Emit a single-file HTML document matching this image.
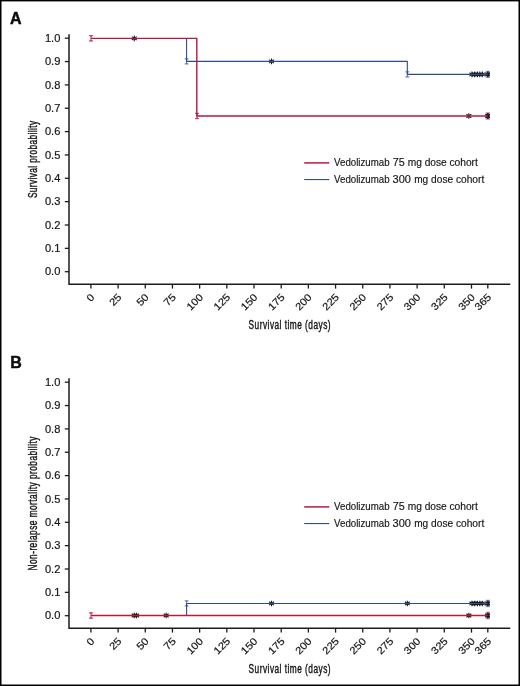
<!DOCTYPE html>
<html><head><meta charset="utf-8"><title>Figure</title>
<style>
html,body{margin:0;padding:0;background:#fff;}
body{width:520px;height:686px;overflow:hidden;}
svg{display:block;will-change:transform;opacity:0.999;font-family:"Liberation Sans",sans-serif;}
</style></head><body>
<svg width="520" height="686" viewBox="0 0 520 686">
<defs><clipPath id="cl"><rect x="60" y="0" width="429.90" height="350"/></clipPath></defs>
<rect x="0" y="0" width="520" height="686" fill="#fff"/>
<g transform="translate(0,0)">
<text x="10.0" y="24" font-size="16" font-weight="bold" fill="#0c0c0c" stroke="#0c0c0c" stroke-width=".45" stroke-linejoin="miter">A</text>
<path d="M69 34.2V284.3H510.3" stroke="#1c1c1c" stroke-width="1.5" fill="none"/>
<path d="M64.8 271.70H69" stroke="#1c1c1c" stroke-width="1.3"/>
<text x="60.4" y="275.30" font-size="10.2" text-anchor="end" textLength="15.45" lengthAdjust="spacingAndGlyphs" fill="#151515" stroke="#151515" stroke-width=".18">0.0</text>
<path d="M64.8 248.35H69" stroke="#1c1c1c" stroke-width="1.3"/>
<text x="60.4" y="251.95" font-size="10.2" text-anchor="end" textLength="15.45" lengthAdjust="spacingAndGlyphs" fill="#151515" stroke="#151515" stroke-width=".18">0.1</text>
<path d="M64.8 225.00H69" stroke="#1c1c1c" stroke-width="1.3"/>
<text x="60.4" y="228.60" font-size="10.2" text-anchor="end" textLength="15.45" lengthAdjust="spacingAndGlyphs" fill="#151515" stroke="#151515" stroke-width=".18">0.2</text>
<path d="M64.8 201.65H69" stroke="#1c1c1c" stroke-width="1.3"/>
<text x="60.4" y="205.25" font-size="10.2" text-anchor="end" textLength="15.45" lengthAdjust="spacingAndGlyphs" fill="#151515" stroke="#151515" stroke-width=".18">0.3</text>
<path d="M64.8 178.30H69" stroke="#1c1c1c" stroke-width="1.3"/>
<text x="60.4" y="181.90" font-size="10.2" text-anchor="end" textLength="15.45" lengthAdjust="spacingAndGlyphs" fill="#151515" stroke="#151515" stroke-width=".18">0.4</text>
<path d="M64.8 154.95H69" stroke="#1c1c1c" stroke-width="1.3"/>
<text x="60.4" y="158.55" font-size="10.2" text-anchor="end" textLength="15.45" lengthAdjust="spacingAndGlyphs" fill="#151515" stroke="#151515" stroke-width=".18">0.5</text>
<path d="M64.8 131.60H69" stroke="#1c1c1c" stroke-width="1.3"/>
<text x="60.4" y="135.20" font-size="10.2" text-anchor="end" textLength="15.45" lengthAdjust="spacingAndGlyphs" fill="#151515" stroke="#151515" stroke-width=".18">0.6</text>
<path d="M64.8 108.25H69" stroke="#1c1c1c" stroke-width="1.3"/>
<text x="60.4" y="111.85" font-size="10.2" text-anchor="end" textLength="15.45" lengthAdjust="spacingAndGlyphs" fill="#151515" stroke="#151515" stroke-width=".18">0.7</text>
<path d="M64.8 84.90H69" stroke="#1c1c1c" stroke-width="1.3"/>
<text x="60.4" y="88.50" font-size="10.2" text-anchor="end" textLength="15.45" lengthAdjust="spacingAndGlyphs" fill="#151515" stroke="#151515" stroke-width=".18">0.8</text>
<path d="M64.8 61.55H69" stroke="#1c1c1c" stroke-width="1.3"/>
<text x="60.4" y="65.15" font-size="10.2" text-anchor="end" textLength="15.45" lengthAdjust="spacingAndGlyphs" fill="#151515" stroke="#151515" stroke-width=".18">0.9</text>
<path d="M64.8 38.20H69" stroke="#1c1c1c" stroke-width="1.3"/>
<text x="60.4" y="41.80" font-size="10.2" text-anchor="end" textLength="15.45" lengthAdjust="spacingAndGlyphs" fill="#151515" stroke="#151515" stroke-width=".18">1.0</text>
<path d="M90.90 284.3V288.6" stroke="#1c1c1c" stroke-width="1.3"/>
<text transform="translate(95.00,297.8) rotate(-45)" font-size="10.2" text-anchor="end" textLength="6.18" lengthAdjust="spacingAndGlyphs" fill="#151515" stroke="#151515" stroke-width=".18">0</text>
<path d="M118.09 284.3V288.6" stroke="#1c1c1c" stroke-width="1.3"/>
<text transform="translate(122.19,297.8) rotate(-45)" font-size="10.2" text-anchor="end" textLength="12.36" lengthAdjust="spacingAndGlyphs" fill="#151515" stroke="#151515" stroke-width=".18">25</text>
<path d="M145.27 284.3V288.6" stroke="#1c1c1c" stroke-width="1.3"/>
<text transform="translate(149.37,297.8) rotate(-45)" font-size="10.2" text-anchor="end" textLength="12.36" lengthAdjust="spacingAndGlyphs" fill="#151515" stroke="#151515" stroke-width=".18">50</text>
<path d="M172.45 284.3V288.6" stroke="#1c1c1c" stroke-width="1.3"/>
<text transform="translate(176.55,297.8) rotate(-45)" font-size="10.2" text-anchor="end" textLength="12.36" lengthAdjust="spacingAndGlyphs" fill="#151515" stroke="#151515" stroke-width=".18">75</text>
<path d="M199.64 284.3V288.6" stroke="#1c1c1c" stroke-width="1.3"/>
<text transform="translate(203.74,297.8) rotate(-45)" font-size="10.2" text-anchor="end" textLength="18.54" lengthAdjust="spacingAndGlyphs" fill="#151515" stroke="#151515" stroke-width=".18">100</text>
<path d="M226.82 284.3V288.6" stroke="#1c1c1c" stroke-width="1.3"/>
<text transform="translate(230.92,297.8) rotate(-45)" font-size="10.2" text-anchor="end" textLength="18.54" lengthAdjust="spacingAndGlyphs" fill="#151515" stroke="#151515" stroke-width=".18">125</text>
<path d="M254.01 284.3V288.6" stroke="#1c1c1c" stroke-width="1.3"/>
<text transform="translate(258.11,297.8) rotate(-45)" font-size="10.2" text-anchor="end" textLength="18.54" lengthAdjust="spacingAndGlyphs" fill="#151515" stroke="#151515" stroke-width=".18">150</text>
<path d="M281.19 284.3V288.6" stroke="#1c1c1c" stroke-width="1.3"/>
<text transform="translate(285.30,297.8) rotate(-45)" font-size="10.2" text-anchor="end" textLength="18.54" lengthAdjust="spacingAndGlyphs" fill="#151515" stroke="#151515" stroke-width=".18">175</text>
<path d="M308.38 284.3V288.6" stroke="#1c1c1c" stroke-width="1.3"/>
<text transform="translate(312.48,297.8) rotate(-45)" font-size="10.2" text-anchor="end" textLength="18.54" lengthAdjust="spacingAndGlyphs" fill="#151515" stroke="#151515" stroke-width=".18">200</text>
<path d="M335.56 284.3V288.6" stroke="#1c1c1c" stroke-width="1.3"/>
<text transform="translate(339.67,297.8) rotate(-45)" font-size="10.2" text-anchor="end" textLength="18.54" lengthAdjust="spacingAndGlyphs" fill="#151515" stroke="#151515" stroke-width=".18">225</text>
<path d="M362.75 284.3V288.6" stroke="#1c1c1c" stroke-width="1.3"/>
<text transform="translate(366.85,297.8) rotate(-45)" font-size="10.2" text-anchor="end" textLength="18.54" lengthAdjust="spacingAndGlyphs" fill="#151515" stroke="#151515" stroke-width=".18">250</text>
<path d="M389.93 284.3V288.6" stroke="#1c1c1c" stroke-width="1.3"/>
<text transform="translate(394.03,297.8) rotate(-45)" font-size="10.2" text-anchor="end" textLength="18.54" lengthAdjust="spacingAndGlyphs" fill="#151515" stroke="#151515" stroke-width=".18">275</text>
<path d="M417.12 284.3V288.6" stroke="#1c1c1c" stroke-width="1.3"/>
<text transform="translate(421.22,297.8) rotate(-45)" font-size="10.2" text-anchor="end" textLength="18.54" lengthAdjust="spacingAndGlyphs" fill="#151515" stroke="#151515" stroke-width=".18">300</text>
<path d="M444.30 284.3V288.6" stroke="#1c1c1c" stroke-width="1.3"/>
<text transform="translate(448.40,297.8) rotate(-45)" font-size="10.2" text-anchor="end" textLength="18.54" lengthAdjust="spacingAndGlyphs" fill="#151515" stroke="#151515" stroke-width=".18">325</text>
<path d="M471.49 284.3V288.6" stroke="#1c1c1c" stroke-width="1.3"/>
<text transform="translate(475.59,297.8) rotate(-45)" font-size="10.2" text-anchor="end" textLength="18.54" lengthAdjust="spacingAndGlyphs" fill="#151515" stroke="#151515" stroke-width=".18">350</text>
<path d="M487.80 284.3V288.6" stroke="#1c1c1c" stroke-width="1.3"/>
<text transform="translate(491.90,297.8) rotate(-45)" font-size="10.2" text-anchor="end" textLength="18.54" lengthAdjust="spacingAndGlyphs" fill="#151515" stroke="#151515" stroke-width=".18">365</text>
<text transform="translate(289.8,328.8) scale(0.665,1)" font-size="12.5" text-anchor="middle" letter-spacing="0.714" fill="#151515" stroke="#151515" stroke-width=".4">Survival time (days)</text>
<text transform="translate(37.2,159.3) rotate(-90) scale(0.665,1)" font-size="12.5" text-anchor="middle" letter-spacing="0.596" fill="#151515" stroke="#151515" stroke-width=".4">Survival probability</text>
<path d="M304.2 162.9H329.3" stroke="#b51a40" stroke-width="1.5"/>
<path d="M304.2 179.55H329.3" stroke="#2f4d8c" stroke-width="1.1"/>
<text x="334.1" y="166.0" font-size="10" textLength="55.5" lengthAdjust="spacingAndGlyphs" fill="#151515" stroke="#151515" stroke-width=".15">Vedolizumab</text>
<text x="392.7" y="166.0" font-size="10" textLength="11.95" lengthAdjust="spacingAndGlyphs" fill="#151515" stroke="#151515" stroke-width=".15">75</text>
<text x="407.65" y="166.0" font-size="10" textLength="14.2" lengthAdjust="spacingAndGlyphs" fill="#151515" stroke="#151515" stroke-width=".15">mg</text>
<text x="424.65" y="166.0" font-size="10" textLength="22.05" lengthAdjust="spacingAndGlyphs" fill="#151515" stroke="#151515" stroke-width=".15">dose</text>
<text x="449.4" y="166.0" font-size="10" textLength="28.5" lengthAdjust="spacingAndGlyphs" fill="#151515" stroke="#151515" stroke-width=".15">cohort</text>
<text x="334.1" y="182.9" font-size="10" textLength="55.5" lengthAdjust="spacingAndGlyphs" fill="#151515" stroke="#151515" stroke-width=".15">Vedolizumab</text>
<text x="392.6" y="182.9" font-size="10" textLength="18.35" lengthAdjust="spacingAndGlyphs" fill="#151515" stroke="#151515" stroke-width=".15">300</text>
<text x="414.2" y="182.9" font-size="10" textLength="14.0" lengthAdjust="spacingAndGlyphs" fill="#151515" stroke="#151515" stroke-width=".15">mg</text>
<text x="431.1" y="182.9" font-size="10" textLength="22.0" lengthAdjust="spacingAndGlyphs" fill="#151515" stroke="#151515" stroke-width=".15">dose</text>
<text x="455.9" y="182.9" font-size="10" textLength="28.4" lengthAdjust="spacingAndGlyphs" fill="#151515" stroke="#151515" stroke-width=".15">cohort</text>
<g opacity="0.55"><path d="M487.80 71.30V77.50M485.70 71.30H489.90M485.70 77.50H489.90" stroke="#2f4d8c" stroke-width="1.2" fill="none"/><path d="M485.70 71.30H489.90L487.80 72.80ZM485.70 77.50H489.90L487.80 76.00Z" fill="#2f4d8c" opacity=".6"/></g>
<g opacity="0.55"><path d="M487.80 112.90V119.10M485.70 112.90H489.90M485.70 119.10H489.90" stroke="#b51a40" stroke-width="1.2" fill="none"/><path d="M485.70 112.90H489.90L487.80 114.40ZM485.70 119.10H489.90L487.80 117.60Z" fill="#b51a40" opacity=".6"/></g>
<path d="M271.52 58.60V64.20M269.06 59.68L273.97 63.12M269.06 63.12L273.97 59.68M471.92 71.60V77.20M469.47 72.68L474.38 76.12M469.47 76.12L474.38 72.68M474.75 71.60V77.20M472.30 72.68L477.21 76.12M472.30 76.12L477.21 72.68M477.47 71.60V77.20M475.02 72.68L479.92 76.12M475.02 76.12L479.92 72.68M479.75 71.60V77.20M477.30 72.68L482.21 76.12M477.30 76.12L482.21 72.68M482.36 71.60V77.20M479.91 72.68L484.82 76.12M479.91 76.12L484.82 72.68M134.29 35.55V41.15M131.83 36.63L136.74 40.07M131.83 40.07L136.74 36.63M468.88 113.20V118.80M466.43 114.28L471.33 117.72M466.43 117.72L471.33 114.28" stroke="#161a1c" stroke-width="1.1" fill="none"/>
<path d="M487.90 71.50V77.30M485.36 72.62L490.44 76.18M485.36 76.18L490.44 72.62M487.90 113.10V118.90M485.36 114.22L490.44 117.78M485.36 117.78L490.44 114.22" stroke="#161a1c" stroke-width="1.6" fill="none" clip-path="url(#cl)"/>
<path d="M186.59 38.35V61.40H407.33V74.40H487.80" stroke="#2f4d8c" stroke-width="1.1" fill="none"/>
<g opacity="0.8"><path d="M186.59 58.80V64.00M184.69 58.80H188.49M184.69 64.00H188.49" stroke="#2f4d8c" stroke-width="0.9" fill="none"/><path d="M184.69 58.80H188.49L186.59 60.30ZM184.69 64.00H188.49L186.59 62.50Z" fill="#2f4d8c" opacity=".6"/></g>
<g opacity="0.8"><path d="M407.33 71.80V77.00M405.43 71.80H409.23M405.43 77.00H409.23" stroke="#2f4d8c" stroke-width="0.9" fill="none"/><path d="M405.43 71.80H409.23L407.33 73.30ZM405.43 77.00H409.23L407.33 75.50Z" fill="#2f4d8c" opacity=".6"/></g>
<path d="M90.90 38.35H196.81V116.00H487.80" stroke="#b51a40" stroke-width="1.4" fill="none"/>
<g opacity="0.9"><path d="M91.00 35.65V41.05M89.00 35.65H93.00M89.00 41.05H93.00" stroke="#b51a40" stroke-width="0.95" fill="none"/><path d="M89.00 35.65H93.00L91.00 37.15ZM89.00 41.05H93.00L91.00 39.55Z" fill="#b51a40" opacity=".6"/></g>
<g opacity="0.9"><path d="M197.02 113.30V118.70M195.02 113.30H199.02M195.02 118.70H199.02" stroke="#b51a40" stroke-width="0.95" fill="none"/><path d="M195.02 113.30H199.02L197.02 114.80ZM195.02 118.70H199.02L197.02 117.20Z" fill="#b51a40" opacity=".6"/></g>
</g>
<g transform="translate(0,344)">
<text x="10.3" y="24" font-size="16" font-weight="bold" fill="#0c0c0c" stroke="#0c0c0c" stroke-width=".45" stroke-linejoin="miter">B</text>
<path d="M69 34.2V284.3H510.3" stroke="#1c1c1c" stroke-width="1.5" fill="none"/>
<path d="M64.8 271.70H69" stroke="#1c1c1c" stroke-width="1.3"/>
<text x="60.4" y="275.30" font-size="10.2" text-anchor="end" textLength="15.45" lengthAdjust="spacingAndGlyphs" fill="#151515" stroke="#151515" stroke-width=".18">0.0</text>
<path d="M64.8 248.35H69" stroke="#1c1c1c" stroke-width="1.3"/>
<text x="60.4" y="251.95" font-size="10.2" text-anchor="end" textLength="15.45" lengthAdjust="spacingAndGlyphs" fill="#151515" stroke="#151515" stroke-width=".18">0.1</text>
<path d="M64.8 225.00H69" stroke="#1c1c1c" stroke-width="1.3"/>
<text x="60.4" y="228.60" font-size="10.2" text-anchor="end" textLength="15.45" lengthAdjust="spacingAndGlyphs" fill="#151515" stroke="#151515" stroke-width=".18">0.2</text>
<path d="M64.8 201.65H69" stroke="#1c1c1c" stroke-width="1.3"/>
<text x="60.4" y="205.25" font-size="10.2" text-anchor="end" textLength="15.45" lengthAdjust="spacingAndGlyphs" fill="#151515" stroke="#151515" stroke-width=".18">0.3</text>
<path d="M64.8 178.30H69" stroke="#1c1c1c" stroke-width="1.3"/>
<text x="60.4" y="181.90" font-size="10.2" text-anchor="end" textLength="15.45" lengthAdjust="spacingAndGlyphs" fill="#151515" stroke="#151515" stroke-width=".18">0.4</text>
<path d="M64.8 154.95H69" stroke="#1c1c1c" stroke-width="1.3"/>
<text x="60.4" y="158.55" font-size="10.2" text-anchor="end" textLength="15.45" lengthAdjust="spacingAndGlyphs" fill="#151515" stroke="#151515" stroke-width=".18">0.5</text>
<path d="M64.8 131.60H69" stroke="#1c1c1c" stroke-width="1.3"/>
<text x="60.4" y="135.20" font-size="10.2" text-anchor="end" textLength="15.45" lengthAdjust="spacingAndGlyphs" fill="#151515" stroke="#151515" stroke-width=".18">0.6</text>
<path d="M64.8 108.25H69" stroke="#1c1c1c" stroke-width="1.3"/>
<text x="60.4" y="111.85" font-size="10.2" text-anchor="end" textLength="15.45" lengthAdjust="spacingAndGlyphs" fill="#151515" stroke="#151515" stroke-width=".18">0.7</text>
<path d="M64.8 84.90H69" stroke="#1c1c1c" stroke-width="1.3"/>
<text x="60.4" y="88.50" font-size="10.2" text-anchor="end" textLength="15.45" lengthAdjust="spacingAndGlyphs" fill="#151515" stroke="#151515" stroke-width=".18">0.8</text>
<path d="M64.8 61.55H69" stroke="#1c1c1c" stroke-width="1.3"/>
<text x="60.4" y="65.15" font-size="10.2" text-anchor="end" textLength="15.45" lengthAdjust="spacingAndGlyphs" fill="#151515" stroke="#151515" stroke-width=".18">0.9</text>
<path d="M64.8 38.20H69" stroke="#1c1c1c" stroke-width="1.3"/>
<text x="60.4" y="41.80" font-size="10.2" text-anchor="end" textLength="15.45" lengthAdjust="spacingAndGlyphs" fill="#151515" stroke="#151515" stroke-width=".18">1.0</text>
<path d="M90.90 284.3V288.6" stroke="#1c1c1c" stroke-width="1.3"/>
<text transform="translate(95.00,297.8) rotate(-45)" font-size="10.2" text-anchor="end" textLength="6.18" lengthAdjust="spacingAndGlyphs" fill="#151515" stroke="#151515" stroke-width=".18">0</text>
<path d="M118.09 284.3V288.6" stroke="#1c1c1c" stroke-width="1.3"/>
<text transform="translate(122.19,297.8) rotate(-45)" font-size="10.2" text-anchor="end" textLength="12.36" lengthAdjust="spacingAndGlyphs" fill="#151515" stroke="#151515" stroke-width=".18">25</text>
<path d="M145.27 284.3V288.6" stroke="#1c1c1c" stroke-width="1.3"/>
<text transform="translate(149.37,297.8) rotate(-45)" font-size="10.2" text-anchor="end" textLength="12.36" lengthAdjust="spacingAndGlyphs" fill="#151515" stroke="#151515" stroke-width=".18">50</text>
<path d="M172.45 284.3V288.6" stroke="#1c1c1c" stroke-width="1.3"/>
<text transform="translate(176.55,297.8) rotate(-45)" font-size="10.2" text-anchor="end" textLength="12.36" lengthAdjust="spacingAndGlyphs" fill="#151515" stroke="#151515" stroke-width=".18">75</text>
<path d="M199.64 284.3V288.6" stroke="#1c1c1c" stroke-width="1.3"/>
<text transform="translate(203.74,297.8) rotate(-45)" font-size="10.2" text-anchor="end" textLength="18.54" lengthAdjust="spacingAndGlyphs" fill="#151515" stroke="#151515" stroke-width=".18">100</text>
<path d="M226.82 284.3V288.6" stroke="#1c1c1c" stroke-width="1.3"/>
<text transform="translate(230.92,297.8) rotate(-45)" font-size="10.2" text-anchor="end" textLength="18.54" lengthAdjust="spacingAndGlyphs" fill="#151515" stroke="#151515" stroke-width=".18">125</text>
<path d="M254.01 284.3V288.6" stroke="#1c1c1c" stroke-width="1.3"/>
<text transform="translate(258.11,297.8) rotate(-45)" font-size="10.2" text-anchor="end" textLength="18.54" lengthAdjust="spacingAndGlyphs" fill="#151515" stroke="#151515" stroke-width=".18">150</text>
<path d="M281.19 284.3V288.6" stroke="#1c1c1c" stroke-width="1.3"/>
<text transform="translate(285.30,297.8) rotate(-45)" font-size="10.2" text-anchor="end" textLength="18.54" lengthAdjust="spacingAndGlyphs" fill="#151515" stroke="#151515" stroke-width=".18">175</text>
<path d="M308.38 284.3V288.6" stroke="#1c1c1c" stroke-width="1.3"/>
<text transform="translate(312.48,297.8) rotate(-45)" font-size="10.2" text-anchor="end" textLength="18.54" lengthAdjust="spacingAndGlyphs" fill="#151515" stroke="#151515" stroke-width=".18">200</text>
<path d="M335.56 284.3V288.6" stroke="#1c1c1c" stroke-width="1.3"/>
<text transform="translate(339.67,297.8) rotate(-45)" font-size="10.2" text-anchor="end" textLength="18.54" lengthAdjust="spacingAndGlyphs" fill="#151515" stroke="#151515" stroke-width=".18">225</text>
<path d="M362.75 284.3V288.6" stroke="#1c1c1c" stroke-width="1.3"/>
<text transform="translate(366.85,297.8) rotate(-45)" font-size="10.2" text-anchor="end" textLength="18.54" lengthAdjust="spacingAndGlyphs" fill="#151515" stroke="#151515" stroke-width=".18">250</text>
<path d="M389.93 284.3V288.6" stroke="#1c1c1c" stroke-width="1.3"/>
<text transform="translate(394.03,297.8) rotate(-45)" font-size="10.2" text-anchor="end" textLength="18.54" lengthAdjust="spacingAndGlyphs" fill="#151515" stroke="#151515" stroke-width=".18">275</text>
<path d="M417.12 284.3V288.6" stroke="#1c1c1c" stroke-width="1.3"/>
<text transform="translate(421.22,297.8) rotate(-45)" font-size="10.2" text-anchor="end" textLength="18.54" lengthAdjust="spacingAndGlyphs" fill="#151515" stroke="#151515" stroke-width=".18">300</text>
<path d="M444.30 284.3V288.6" stroke="#1c1c1c" stroke-width="1.3"/>
<text transform="translate(448.40,297.8) rotate(-45)" font-size="10.2" text-anchor="end" textLength="18.54" lengthAdjust="spacingAndGlyphs" fill="#151515" stroke="#151515" stroke-width=".18">325</text>
<path d="M471.49 284.3V288.6" stroke="#1c1c1c" stroke-width="1.3"/>
<text transform="translate(475.59,297.8) rotate(-45)" font-size="10.2" text-anchor="end" textLength="18.54" lengthAdjust="spacingAndGlyphs" fill="#151515" stroke="#151515" stroke-width=".18">350</text>
<path d="M487.80 284.3V288.6" stroke="#1c1c1c" stroke-width="1.3"/>
<text transform="translate(491.90,297.8) rotate(-45)" font-size="10.2" text-anchor="end" textLength="18.54" lengthAdjust="spacingAndGlyphs" fill="#151515" stroke="#151515" stroke-width=".18">365</text>
<text transform="translate(289.8,328.8) scale(0.665,1)" font-size="12.5" text-anchor="middle" letter-spacing="0.714" fill="#151515" stroke="#151515" stroke-width=".4">Survival time (days)</text>
<text transform="translate(37.2,159.3) rotate(-90) scale(0.665,1)" font-size="12.5" text-anchor="middle" letter-spacing="0.691" fill="#151515" stroke="#151515" stroke-width=".4">Non-relapse mortality probability</text>
<path d="M304.2 162.9H329.3" stroke="#b51a40" stroke-width="1.5"/>
<path d="M304.2 179.55H329.3" stroke="#2f4d8c" stroke-width="1.1"/>
<text x="334.1" y="166.0" font-size="10" textLength="55.5" lengthAdjust="spacingAndGlyphs" fill="#151515" stroke="#151515" stroke-width=".15">Vedolizumab</text>
<text x="392.7" y="166.0" font-size="10" textLength="11.95" lengthAdjust="spacingAndGlyphs" fill="#151515" stroke="#151515" stroke-width=".15">75</text>
<text x="407.65" y="166.0" font-size="10" textLength="14.2" lengthAdjust="spacingAndGlyphs" fill="#151515" stroke="#151515" stroke-width=".15">mg</text>
<text x="424.65" y="166.0" font-size="10" textLength="22.05" lengthAdjust="spacingAndGlyphs" fill="#151515" stroke="#151515" stroke-width=".15">dose</text>
<text x="449.4" y="166.0" font-size="10" textLength="28.5" lengthAdjust="spacingAndGlyphs" fill="#151515" stroke="#151515" stroke-width=".15">cohort</text>
<text x="334.1" y="182.9" font-size="10" textLength="55.5" lengthAdjust="spacingAndGlyphs" fill="#151515" stroke="#151515" stroke-width=".15">Vedolizumab</text>
<text x="392.6" y="182.9" font-size="10" textLength="18.35" lengthAdjust="spacingAndGlyphs" fill="#151515" stroke="#151515" stroke-width=".15">300</text>
<text x="414.2" y="182.9" font-size="10" textLength="14.0" lengthAdjust="spacingAndGlyphs" fill="#151515" stroke="#151515" stroke-width=".15">mg</text>
<text x="431.1" y="182.9" font-size="10" textLength="22.0" lengthAdjust="spacingAndGlyphs" fill="#151515" stroke="#151515" stroke-width=".15">dose</text>
<text x="455.9" y="182.9" font-size="10" textLength="28.4" lengthAdjust="spacingAndGlyphs" fill="#151515" stroke="#151515" stroke-width=".15">cohort</text>
<g opacity="0.55"><path d="M487.80 256.35V262.55M485.70 256.35H489.90M485.70 262.55H489.90" stroke="#2f4d8c" stroke-width="1.2" fill="none"/><path d="M485.70 256.35H489.90L487.80 257.85ZM485.70 262.55H489.90L487.80 261.05Z" fill="#2f4d8c" opacity=".6"/></g>
<g opacity="0.55"><path d="M487.80 268.40V274.60M485.70 268.40H489.90M485.70 274.60H489.90" stroke="#b51a40" stroke-width="1.2" fill="none"/><path d="M485.70 268.40H489.90L487.80 269.90ZM485.70 274.60H489.90L487.80 273.10Z" fill="#b51a40" opacity=".6"/></g>
<path d="M271.52 256.65V262.25M269.06 257.73L273.97 261.17M269.06 261.17L273.97 257.73M407.33 256.65V262.25M404.88 257.73L409.79 261.17M404.88 261.17L409.79 257.73M471.92 256.65V262.25M469.47 257.73L474.38 261.17M469.47 261.17L474.38 257.73M474.75 256.65V262.25M472.30 257.73L477.21 261.17M472.30 261.17L477.21 257.73M477.47 256.65V262.25M475.02 257.73L479.92 261.17M475.02 261.17L479.92 257.73M479.75 256.65V262.25M477.30 257.73L482.21 261.17M477.30 261.17L482.21 257.73M482.36 256.65V262.25M479.91 257.73L484.82 261.17M479.91 261.17L484.82 257.73M134.18 268.70V274.30M131.72 269.78L136.63 273.22M131.72 273.22L136.63 269.78M136.57 268.70V274.30M134.12 269.78L139.02 273.22M134.12 273.22L139.02 269.78M166.15 268.70V274.30M163.69 269.78L168.60 273.22M163.69 273.22L168.60 269.78M468.88 268.70V274.30M466.43 269.78L471.33 273.22M466.43 273.22L471.33 269.78" stroke="#161a1c" stroke-width="1.1" fill="none"/>
<path d="M487.90 256.55V262.35M485.36 257.67L490.44 261.23M485.36 261.23L490.44 257.67M487.90 268.60V274.40M485.36 269.72L490.44 273.28M485.36 273.28L490.44 269.72" stroke="#161a1c" stroke-width="1.6" fill="none" clip-path="url(#cl)"/>
<path d="M186.59 271.50V259.45H487.80" stroke="#2f4d8c" stroke-width="1.1" fill="none"/>
<g opacity="0.8"><path d="M186.59 256.85V262.05M184.69 256.85H188.49M184.69 262.05H188.49" stroke="#2f4d8c" stroke-width="0.9" fill="none"/><path d="M184.69 256.85H188.49L186.59 258.35ZM184.69 262.05H188.49L186.59 260.55Z" fill="#2f4d8c" opacity=".6"/></g>
<path d="M90.90 271.50H487.80" stroke="#b51a40" stroke-width="1.4" fill="none"/>
<g opacity="0.9"><path d="M91.00 268.80V274.20M89.00 268.80H93.00M89.00 274.20H93.00" stroke="#b51a40" stroke-width="0.95" fill="none"/><path d="M89.00 268.80H93.00L91.00 270.30ZM89.00 274.20H93.00L91.00 272.70Z" fill="#b51a40" opacity=".6"/></g>
</g>
<path d="M0 0H520V686H0Z" fill="none" stroke="#000" stroke-width="0"/>
<rect x="0" y="0" width="520" height="1.4" fill="#000"/>
<rect x="0" y="0" width="1.5" height="686" fill="#000"/>
<rect x="518.5" y="0" width="1.5" height="686" fill="#000"/>
<rect x="0" y="684.5" width="520" height="1.5" fill="#000"/>
</svg>
</body></html>
